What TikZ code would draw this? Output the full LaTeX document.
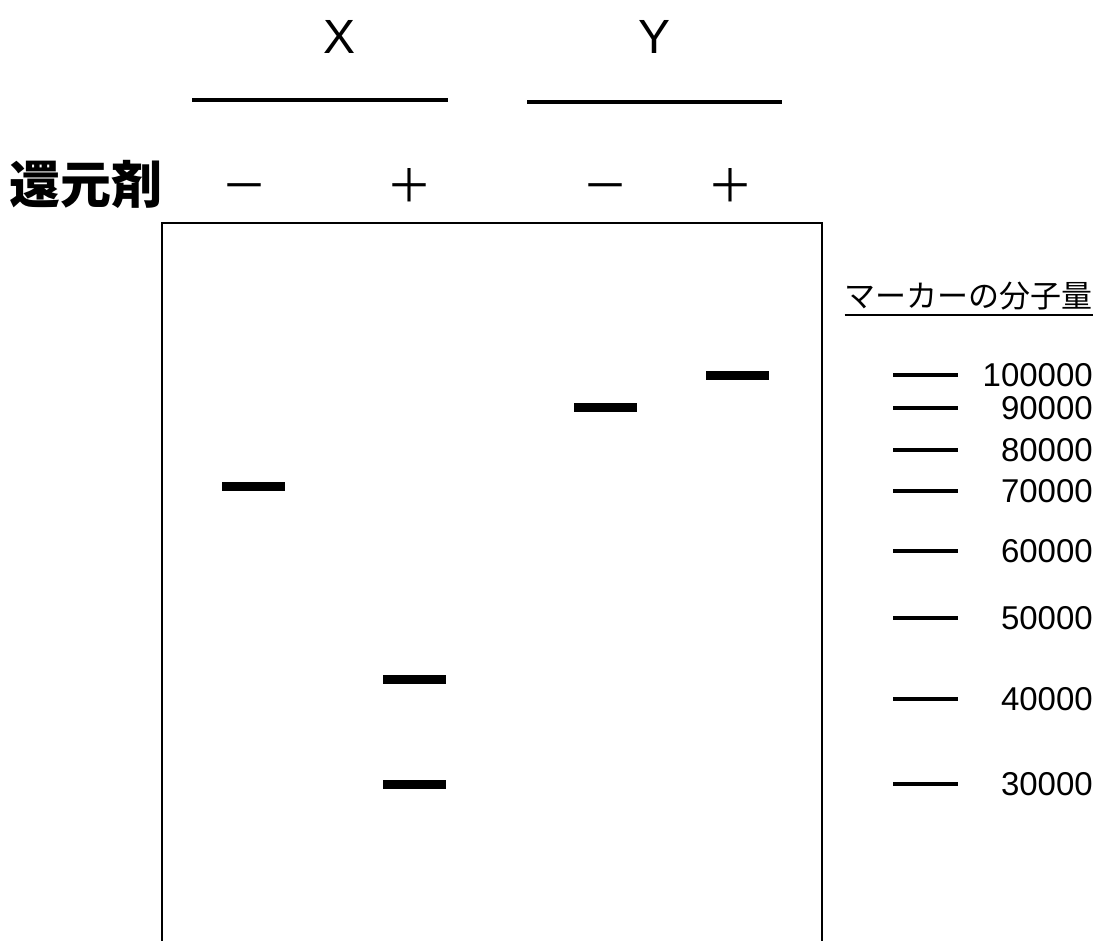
\documentclass[tikz,border=0pt]{standalone}
\usepackage{fontspec}
\setmainfont{Liberation Sans}
\newfontfamily\jpfont{Noto Sans CJK JP}
\begin{document}
\begin{tikzpicture}[x=1pt,y=-1pt,
  lanelabel/.style={font=\fontsize{48}{50}\selectfont, inner sep=0pt},
  signlabel/.style={font=\jpfont\fontsize{46}{48}\selectfont, inner sep=0pt},
  groupbar/.style={line width=4pt},
  band/.style={fill=black, draw=none, minimum width=63pt, minimum height=9pt, inner sep=0pt},
  mline/.style={fill=black, draw=none, minimum width=65pt, minimum height=3.4pt, inner sep=0pt},
  mlabel/.style={anchor=east, font=\fontsize{33}{35}\selectfont, inner sep=0pt},
  gel/.style={line width=2.2pt}]
\useasboundingbox (0,0) rectangle (1101,941);
\fill[white] (0,0) rectangle (1101,941);
% group labels
\node[lanelabel] (X) at (340,37) {X};
\node[lanelabel] (Y) at (655,37) {Y};
\coordinate (xa) at (192,100); \coordinate (xb) at (448,100);
\coordinate (ya) at (527,102); \coordinate (yb) at (782,102);
\draw[groupbar] (xa) -- (xb);
\draw[groupbar] (ya) -- (yb);
% reducing agent row
\node[font=\jpfont\bfseries\fontsize{51}{53}\selectfont, inner sep=0pt, anchor=west] (red) at (9,184) {還元剤};
\node[signlabel] (s1) at (244,193) {－};
\node[signlabel] (s2) at (409,186) {＋};
\node[signlabel] (s3) at (605,193) {－};
\node[signlabel] (s4) at (730,186) {＋};
% gel outline
\coordinate (g1) at (162,941); \coordinate (g2) at (162,223);
\coordinate (g3) at (822,223); \coordinate (g4) at (822,941);
\draw[gel] (g1) -- (g2) -- (g3) -- (g4);
% bands
\node[band] (bx1) at (253.5,486.5) {};
\node[band] (bx2) at (414.5,679.5) {};
\node[band] (bx3) at (414.5,784.5) {};
\node[band] (by1) at (605,407.5) {};
\node[band] (by2) at (737.5,375.5) {};
% marker title
\node[font=\jpfont\fontsize{31}{33}\selectfont, inner sep=0pt, anchor=east] (mt) at (1093,296) {マーカーの分子量};
\draw[line width=2pt] (mt.south west) ++(0,5) coordinate (u1) -- (mt.south east |- u1);
% marker lines and labels
\foreach \yy/\lab/\nm in {375/100000/m10, 408/90000/m9, 450/80000/m8, 491/70000/m7, 551/60000/m6, 618/50000/m5, 699/40000/m4, 784/30000/m3}{
  \node[mline] (\nm) at (925.5,\yy) {};
  \node[mlabel] (\nm t) at (1093,\yy) {\lab};
}
\end{tikzpicture}
\end{document}
